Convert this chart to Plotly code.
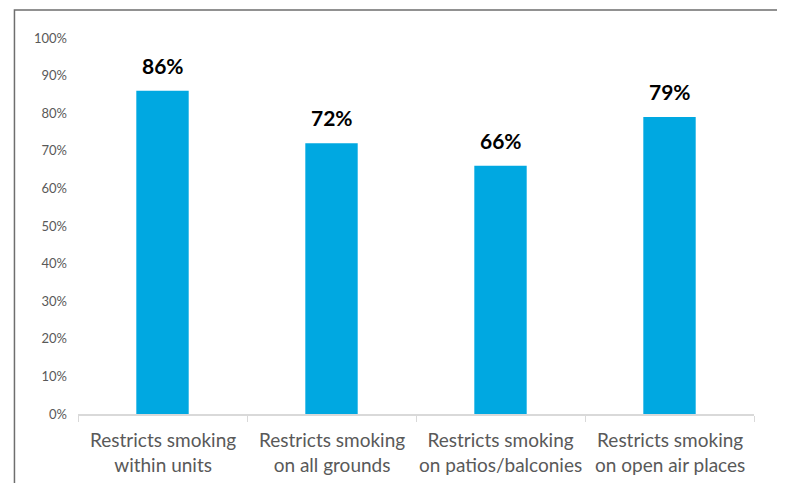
import plotly.graph_objects as go

cat_line1 = ["Restricts smoking", "Restricts smoking", "Restricts smoking", "Restricts smoking"]
cat_line2 = ["within units", "on all grounds", "on patios/balconies", "on open air places"]
categories = [a + " " + b for a, b in zip(cat_line1, cat_line2)]
values = [86, 72, 66, 79]
labels = ["86%", "72%", "66%", "79%"]
tick_vals = [0, 10, 20, 30, 40, 50, 60, 70, 80, 90, 100]
tick_text = ["0%", "10%", "20%", "30%", "40%", "50%", "60%", "70%", "80%", "90%", "100%"]

fig = go.Figure(go.Bar(
    x=categories, y=values,
    marker=dict(color="#00A8E1", line=dict(width=0)),
    width=0.31,
))

annotations = []
for c, v, t in zip(categories, values, labels):
    annotations.append(dict(x=c, y=v, xref="x", yref="y", text=t, showarrow=False,
                            yanchor="bottom", yshift=11,
                            font=dict(family="Lato", size=21, color="#000000", weight="bold")))
for c, l1, l2 in zip(categories, cat_line1, cat_line2):
    annotations.append(dict(x=c, y=0, xref="x", yref="paper", text=l1 + "<br>" + l2,
                            showarrow=False, yanchor="middle", yshift=-37.5,
                            font=dict(family="Lato", size=19, color="#595959")))

fig.update_layout(
    width=776, height=475,
    margin=dict(l=70, r=30, t=30, b=69),
    plot_bgcolor="white", paper_bgcolor="white",
    showlegend=False,
    font=dict(family="Lato", color="#595959"),
    xaxis=dict(showline=True, linecolor="#D9D9D9", linewidth=1.5,
               ticks="outside", tickson="boundaries", ticklen=6, tickcolor="#D9D9D9",
               showticklabels=False, showgrid=False),
    yaxis=dict(range=[0, 100], tickvals=tick_vals, ticktext=tick_text, showgrid=False,
               showline=False, zeroline=False, tickfont=dict(size=13, color="#595959"),
               ticks="", ticklabelstandoff=10),
    annotations=annotations,
    shapes=[dict(type="rect", xref="paper", yref="paper", x0=-0.094, x1=1.0414,
                 y0=-0.4, y1=1.0745, line=dict(color="#6E6E6E", width=1.5), layer="below")],
)

fig.write_html("out.html")
